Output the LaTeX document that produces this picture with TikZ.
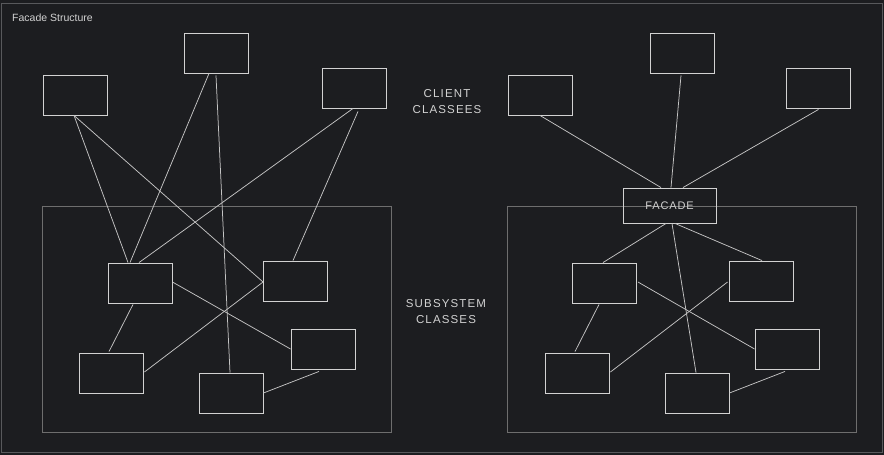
\documentclass[tikz,border=0pt]{standalone}
\usepackage{fontspec}
\setmainfont{Liberation Sans}
\definecolor{bg}{HTML}{1C1D20}
\definecolor{ink}{HTML}{D2D2D2}
\definecolor{linkc}{HTML}{C4C4C4}
\definecolor{framec}{HTML}{6E6E6E}
\definecolor{outerc}{HTML}{58595C}
\begin{document}
\begin{tikzpicture}[x=1pt,y=1pt,
  cls/.style={draw=ink, line width=0.9pt, minimum width=64pt, minimum height=40pt, inner sep=0pt},
  facadebox/.style={draw=ink, line width=0.9pt, minimum width=93pt, minimum height=35pt, inner sep=0pt, text=ink, font=\fontsize{11}{13}\selectfont\addfontfeature{LetterSpace=8}},
  sysbox/.style={draw=framec, line width=0.8pt, minimum width=349pt, minimum height=226pt, inner sep=0pt},
  link/.style={draw=linkc, line width=0.75pt},
  lbl/.style={text=ink, align=center, font=\fontsize{11.5}{16}\selectfont\addfontfeature{LetterSpace=10}},
  ttl/.style={text=ink, anchor=west, inner sep=0pt, font=\fontsize{10.5}{12}\selectfont}]
\useasboundingbox (0,0) rectangle (884,-455);
\fill[bg] (0,0) rectangle (884,-455);
\draw[outerc, line width=1pt] (1.5,-3) rectangle (882,-452);

\node[ttl] (title) at (12,-17.5) {Facade Structure};

% containers
\node[sysbox] (SL) at (216.5,-319) {};
\node[sysbox] (SR) at (681.5,-319) {};

% labels
\node[lbl] (client) at (447,-102) {CLIENT\\CLASSEES};
\node[lbl] (subsys) at (446,-312) {SUBSYSTEM\\CLASSES};

% left side
\node[cls] (A) at (75,-95) {};
\node[cls] (B) at (216.5,-53) {};
\node[cls] (C) at (354,-88) {};
\node[cls] (D) at (140,-283) {};
\node[cls] (E) at (295.5,-281) {};
\node[cls] (F) at (111,-373) {};
\node[cls] (G) at (231,-393) {};
\node[cls] (H) at (323,-349) {};

\draw[link] ([xshift=-1pt]A.south) -- ([xshift=-12pt]D.north);
\draw[link] ([xshift=-1pt]A.south) -- ([yshift=-1pt]E.west);
\draw[link] ([xshift=-7.5pt]B.south) -- ([xshift=-10pt]D.north);
\draw[link] ([xshift=-0.5pt,yshift=-2pt]B.south) -- ([xshift=-1pt]G.north);
\draw[link] ([xshift=-1pt]C.south) -- ([xshift=-1pt]D.north);
\draw[link] ([xshift=4pt,yshift=-3pt]C.south) -- ([xshift=-2.5pt]E.north);
\draw[link] ([yshift=1pt]D.east) -- (H.west);
\draw[link] ([xshift=-7pt,yshift=-1pt]D.south) -- ([xshift=-2pt,yshift=1pt]F.north);
\draw[link] ([xshift=1pt,yshift=1pt]F.east) -- ([yshift=-1pt]E.west);
\draw[link] (G.east) -- ([xshift=-4pt,yshift=-2pt]H.south);

% right side
\node[cls] (A2) at (540,-95) {};
\node[cls] (B2) at (682.5,-53) {};
\node[cls] (C2) at (818.5,-88) {};
\node[facadebox] (FA) at (669.5,-205.5) {FACADE};
\node[cls] (D2) at (604.5,-283) {};
\node[cls] (E2) at (761,-281) {};
\node[cls] (F2) at (577,-373) {};
\node[cls] (G2) at (697,-393) {};
\node[cls] (H2) at (787,-349) {};

\draw[link] (A2.south) -- ([xshift=-8.5pt]FA.north);
\draw[link] ([xshift=-1.5pt,yshift=-2pt]B2.south) -- ([xshift=1.5pt]FA.north);
\draw[link] ([yshift=-1pt]C2.south) -- ([xshift=13.5pt]FA.north);
\draw[link] ([xshift=-3.5pt]FA.south) -- ([xshift=-1.5pt]D2.north);
\draw[link] ([xshift=2.5pt]FA.south) -- ([xshift=-1pt]G2.north);
\draw[link] ([xshift=5.5pt]FA.south) -- ([xshift=1pt]E2.north);
\draw[link] ([xshift=1pt,yshift=1pt]D2.east) -- (H2.west);
\draw[link] ([xshift=-5.5pt,yshift=-1pt]D2.south) -- ([xshift=-2pt,yshift=1pt]F2.north);
\draw[link] ([xshift=1pt,yshift=1pt]F2.east) -- ([xshift=-1pt,yshift=-1pt]E2.west);
\draw[link] (G2.east) -- ([xshift=-2pt,yshift=-2pt]H2.south);
\end{tikzpicture}
\end{document}
